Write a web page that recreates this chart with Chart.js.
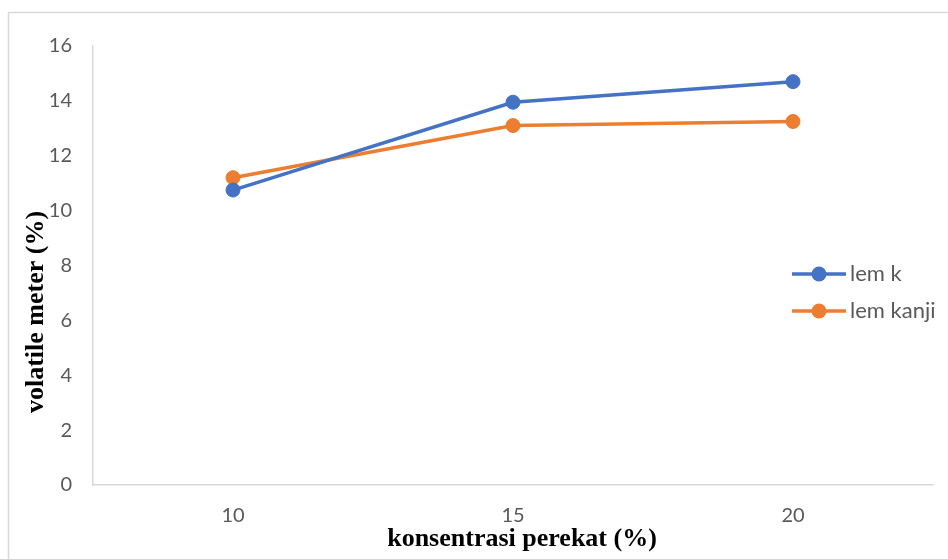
<!DOCTYPE html>
<html>
<head>
<meta charset="utf-8">
<script src="https://cdn.jsdelivr.net/npm/chart.js@4/dist/chart.umd.min.js"></script>
<style>
  html, body { margin: 0; padding: 0; background: #ffffff; }
  #wrap { width: 948px; height: 559px; position: relative; }
</style>
</head>
<body>
<div id="wrap"><canvas id="chart" width="948" height="559"></canvas></div>
<script>
// Adhesive concentration (%) on the x axis
const concentrations = ['10', '15', '20'];
// Volatile matter (%) per adhesive type
const lemK = [10.75, 13.95, 14.7];
const lemKanji = [11.2, 13.1, 13.25];
const seriesNames = ['lem k', 'lem kanji'];
// Value axis range and step
const yMin = 0;
const yMax = 16;
const yStep = 2;
const xTitle = 'konsentrasi perekat (%)';
const yTitle = 'volatile meter (%)';

const BLUE = '#4472C4';
const ORANGE = '#ED7D31';
const TEXT_GREY = '#595959';
const LINE_GREY = '#d9d9d9';

// Outer frame, axis titles and the series key inside the plot
const decorations = {
  id: 'decorations',
  beforeDraw(chart) {
    const ctx = chart.ctx;
    ctx.save();
    ctx.strokeStyle = LINE_GREY;
    ctx.lineWidth = 1.5;
    ctx.beginPath();
    ctx.moveTo(8.5, 559);
    ctx.lineTo(8.5, 12.5);
    ctx.lineTo(948, 12.5);
    ctx.stroke();
    ctx.restore();
  },
  afterDraw(chart) {
    const ctx = chart.ctx;
    ctx.save();
    // axis titles
    ctx.fillStyle = '#000000';
    ctx.font = 'bold 26px "Liberation Serif", "Times New Roman", serif';
    ctx.textAlign = 'center';
    ctx.textBaseline = 'alphabetic';
    ctx.fillText(xTitle, 522, 546);
    ctx.save();
    ctx.translate(43, 312);
    ctx.rotate(-Math.PI / 2);
    ctx.fillText(yTitle, 0, 0);
    ctx.restore();

    // series key
    const x0 = 792, x1 = 846, cx = 819;
    const rows = [274, 311];
    chart.data.datasets.forEach((ds, i) => {
      const y = rows[i];
      ctx.strokeStyle = ds.borderColor;
      ctx.lineWidth = 3.5;
      ctx.lineCap = 'butt';
      ctx.beginPath();
      ctx.moveTo(x0, y);
      ctx.lineTo(x1, y);
      ctx.stroke();
      ctx.fillStyle = ds.pointBackgroundColor;
      ctx.beginPath();
      ctx.arc(cx, y, 7.5, 0, Math.PI * 2);
      ctx.fill();
      ctx.fillStyle = TEXT_GREY;
      ctx.font = '22px Lato, "Open Sans", sans-serif';
      ctx.textAlign = 'left';
      ctx.textBaseline = 'middle';
      ctx.fillText(ds.label, 850, y);
    });
    ctx.restore();
  }
};

new Chart(document.getElementById('chart'), {
  type: 'line',
  data: {
    labels: concentrations,
    datasets: [
      {
        label: seriesNames[0],
        data: lemK,
        borderColor: BLUE,
        backgroundColor: BLUE,
        pointBackgroundColor: BLUE,
        pointBorderColor: BLUE,
        borderWidth: 3.5,
        pointRadius: 7,
        pointBorderWidth: 1,
        tension: 0,
        fill: false
      },
      {
        label: seriesNames[1],
        data: lemKanji,
        borderColor: ORANGE,
        backgroundColor: ORANGE,
        pointBackgroundColor: ORANGE,
        pointBorderColor: ORANGE,
        borderWidth: 3.5,
        pointRadius: 7,
        pointBorderWidth: 1,
        tension: 0,
        fill: false
      }
    ]
  },
  options: {
    responsive: false,
    animation: false,
    layout: { padding: { top: 46, right: 15, bottom: 0, left: 0 } },
    plugins: {
      legend: { display: false },
      tooltip: { enabled: false }
    },
    scales: {
      x: {
        offset: true,
        grid: { display: false, drawTicks: false },
        border: { display: true, color: LINE_GREY, width: 1.5 },
        ticks: {
          color: TEXT_GREY,
          font: { family: 'Lato, "Open Sans", sans-serif', size: 20 },
          padding: 19,
          maxRotation: 0
        },
        afterFit(scale) { scale.height = 74; }
      },
      y: {
        min: yMin,
        max: yMax,
        grid: { display: false, drawTicks: false },
        border: { display: true, color: LINE_GREY, width: 1.5 },
        ticks: {
          stepSize: yStep,
          color: TEXT_GREY,
          font: { family: 'Lato, "Open Sans", sans-serif', size: 20 },
          padding: 21
        },
        afterFit(scale) { scale.width = 93; }
      }
    }
  },
  plugins: [decorations]
});
</script>
</body>
</html>
